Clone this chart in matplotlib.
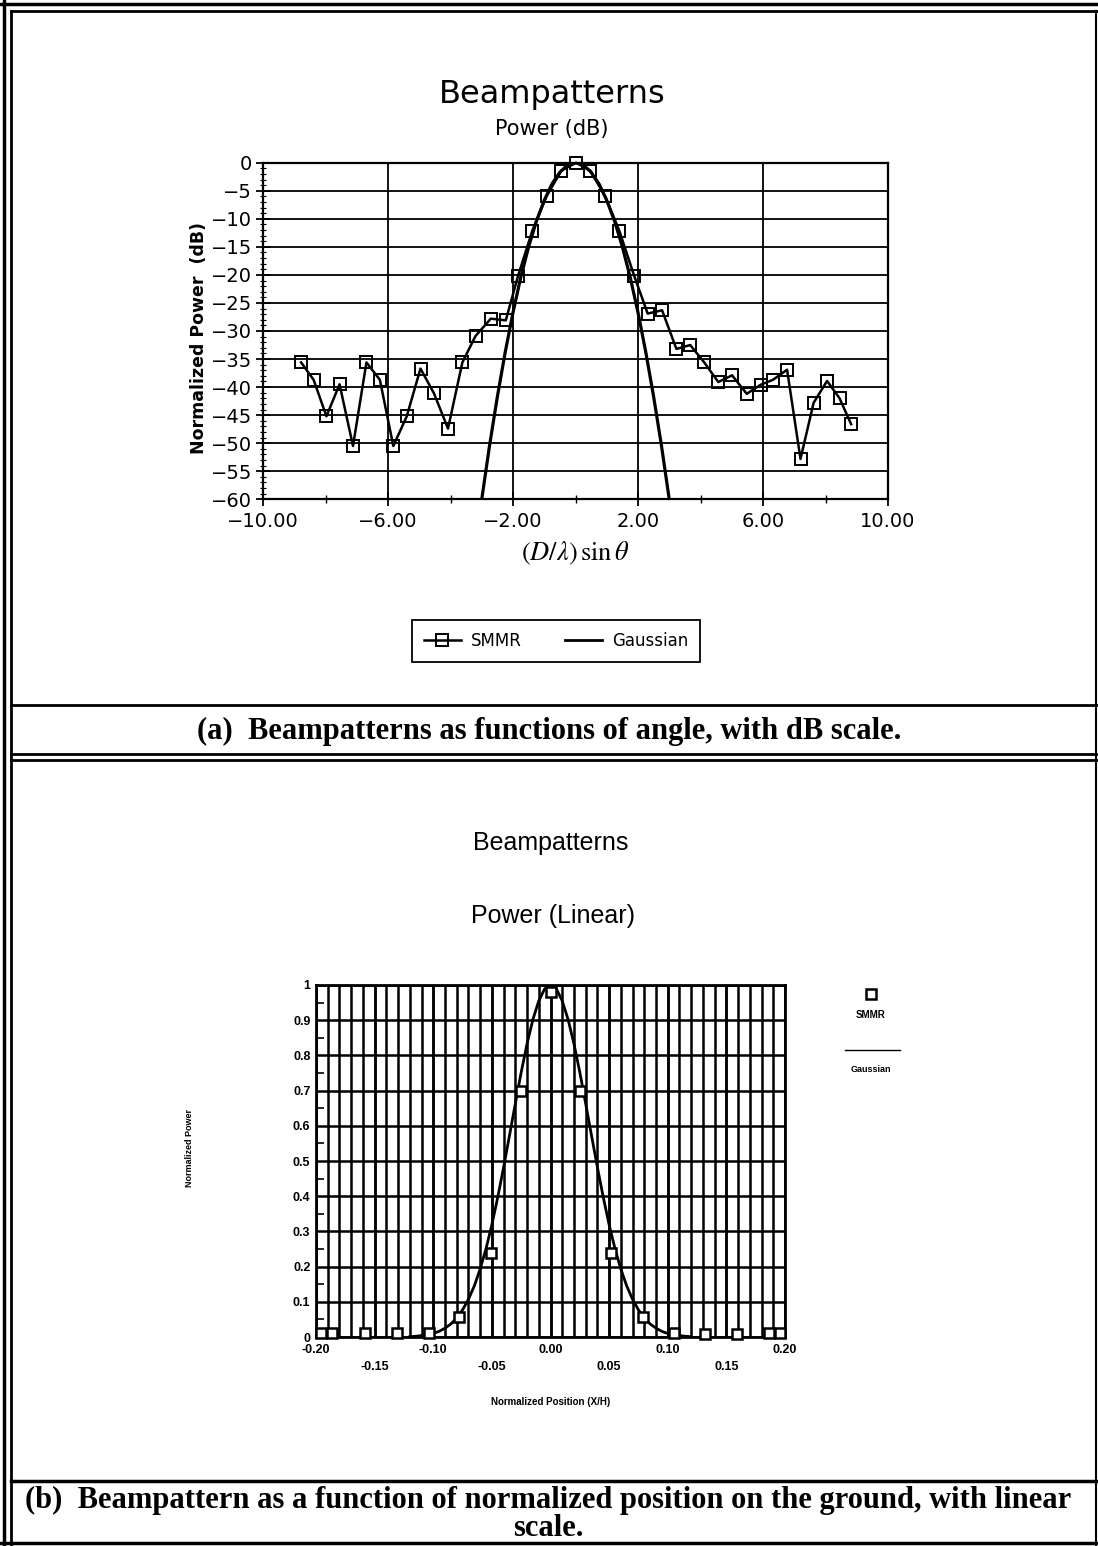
import numpy as np
import matplotlib
matplotlib.use("Agg")
import matplotlib.pyplot as plt
from matplotlib.lines import Line2D

plt.rcParams['font.family'] = ['DejaVu Sans']
plt.rcParams['mathtext.fontset'] = 'stix'

# (a) beampattern vs angle, dB
smmr_u = [-8.78, -8.38, -7.97, -7.55, -7.12, -6.69, -6.26, -5.83, -5.40, -4.96,
          -4.53, -4.08, -3.62, -3.20, -2.71, -2.23, -1.84, -1.38, -0.92, -0.45,
          0.02, 0.47, 0.94, 1.40, 1.88, 2.31, 2.77, 3.23, 3.67, 4.12,
          4.57, 5.01, 5.48, 5.92, 6.32, 6.77, 7.20, 7.62, 8.05, 8.45, 8.82]
smmr_db = [-35.6, -38.7, -45.2, -39.5, -50.5, -35.6, -38.7, -50.5, -45.2, -36.7,
           -41.1, -47.4, -35.6, -30.9, -27.8, -28.1, -20.2, -12.1, -5.9, -1.4,
           0.0, -1.4, -5.9, -12.1, -20.2, -26.9, -26.3, -33.2, -32.5, -35.6,
           -39.1, -37.9, -41.2, -39.6, -38.7, -36.9, -52.8, -42.8, -38.9, -42.0, -46.6]
gauss_u = [-3.1, -3.0, -2.75, -2.5, -2.25, -2.0, -1.75, -1.5, -1.25, -1.0, -0.75, -0.5, -0.25,
           0.0, 0.25, 0.5, 0.75, 1.0, 1.25, 1.5, 1.75, 2.0, 2.25, 2.5, 2.75, 3.0, 3.1]
gauss_db = [-64.1, -60.0, -50.4, -41.7, -33.8, -26.7, -20.4, -15.0, -10.4, -6.7, -3.75, -1.7, -0.4,
            0.0, -0.4, -1.7, -3.75, -6.7, -10.4, -15.0, -20.4, -26.7, -33.8, -41.7, -50.4, -60.0, -64.1]
a_xticks = [-10, -6, -2, 2, 6, 10]
a_xlabels = ['\u221210.00', '\u22126.00', '\u22122.00', '2.00', '6.00', '10.00']
a_yticks = list(range(-60, 1, 5))

# (b) beampattern vs ground position, linear
smmr_x = [-0.196, -0.186, -0.158, -0.131, -0.104, -0.078, -0.051, -0.025, 0.0,
          0.025, 0.052, 0.079, 0.105, 0.132, 0.159, 0.186, 0.196]
smmr_p = [0.012, 0.012, 0.010, 0.010, 0.012, 0.057, 0.239, 0.699, 0.98,
          0.699, 0.239, 0.057, 0.012, 0.009, 0.009, 0.010, 0.010]
gauss_x = [-0.12, -0.115, -0.11, -0.105, -0.10, -0.095, -0.09, -0.085, -0.08, -0.075, -0.07,
           -0.065, -0.06, -0.055, -0.05, -0.045, -0.04, -0.035, -0.03, -0.025, -0.02, -0.015,
           -0.01, -0.005, 0.0, 0.005, 0.01, 0.015, 0.02, 0.025, 0.03, 0.035, 0.04, 0.045,
           0.05, 0.055, 0.06, 0.065, 0.07, 0.075, 0.08, 0.085, 0.09, 0.095, 0.10, 0.105,
           0.11, 0.115, 0.12]
gauss_p = [0.001, 0.002, 0.004, 0.0065, 0.010, 0.016, 0.025, 0.037, 0.054, 0.077, 0.107,
           0.145, 0.193, 0.251, 0.319, 0.397, 0.482, 0.572, 0.663, 0.752, 0.833, 0.902,
           0.955, 0.989, 1.0, 0.989, 0.955, 0.902, 0.833, 0.752, 0.663, 0.572, 0.482, 0.397,
           0.319, 0.251, 0.193, 0.145, 0.107, 0.077, 0.054, 0.037, 0.025, 0.016, 0.010, 0.0065,
           0.004, 0.002, 0.001]
b_xticks = [-0.20, -0.15, -0.10, -0.05, 0.00, 0.05, 0.10, 0.15, 0.20]
b_xlabels = ['-0.20', '-0.15', '-0.10', '-0.05', '0.00', '0.05', '0.10', '0.15', '0.20']
b_yticks = [0, 0.1, 0.2, 0.3, 0.4, 0.5, 0.6, 0.7, 0.8, 0.9, 1.0]
b_ylabels = ['0', '0.1', '0.2', '0.3', '0.4', '0.5', '0.6', '0.7', '0.8', '0.9', '1']

W, H = 1098, 1546
fig = plt.figure(figsize=(W / 100, H / 100), dpi=100)


def fx(px):
    return px / W


def fy(py):
    return 1 - py / H


def hline(y, x0, x1, lw=2.0):
    fig.add_artist(Line2D([fx(x0), fx(x1)], [fy(y), fy(y)], color='black', lw=lw,
                          transform=fig.transFigure))


def vline(x, y0, y1, lw=2.0):
    fig.add_artist(Line2D([fx(x), fx(x)], [fy(y0), fy(y1)], color='black', lw=lw,
                          transform=fig.transFigure))


# ---- panel (a) ----
ax = fig.add_axes([fx(263), fy(499.3), (888 - 263) / W, (499.3 - 162.7) / H])
ax.plot(gauss_u, gauss_db, color='black', lw=2.3)
ax.plot(smmr_u, smmr_db, color='black', lw=1.8, marker='s', ms=8.5,
        mfc='none', mec='black', mew=1.4, clip_on=False, zorder=3)
ax.set_xlim(-10, 10)
ax.set_ylim(-60, 0)
ax.set_xticks(a_xticks, a_xlabels, fontsize=14)
ax.set_xticks([-8, -4, 0, 4, 8], minor=True)
ax.set_yticks(a_yticks, ['\u2212%d' % -v if v else '0' for v in a_yticks], fontsize=14)
ax.set_yticks(range(-60, 1), minor=True)
ax.tick_params(axis='x', which='major', direction='inout', length=10, width=1.3, pad=4)
ax.tick_params(axis='x', which='minor', direction='inout', length=6, width=1.0)
ax.tick_params(axis='y', which='major', direction='inout', length=10, width=1.3, pad=3)
ax.tick_params(axis='y', which='minor', direction='inout', length=5, width=0.8)
ax.grid(True, which='major', color='black', lw=1.3)
for s in ax.spines.values():
    s.set_linewidth(1.6)

fig.text(fx(552), fy(95), 'Beampatterns', ha='center', va='center', fontsize=23)
fig.text(fx(552), fy(129), 'Power (dB)', ha='center', va='center', fontsize=15)
fig.text(fx(199), fy(338), 'Normalized Power  (dB)', ha='center', va='center',
         rotation=90, fontsize=12.5, fontweight='semibold')
fig.text(fx(575), fy(553), r'$(D/\lambda)\,\mathrm{sin}\,\theta$', ha='center', va='center',
         fontsize=19)

h_smmr = Line2D([], [], color='black', lw=1.8, marker='s', ms=8.5, mfc='none', mew=1.4)
h_gauss = Line2D([], [], color='black', lw=2.0)
leg = fig.legend([h_smmr, h_gauss], ['SMMR', 'Gaussian'], loc='center',
                 bbox_to_anchor=(fx(556), fy(641)), ncol=2, fontsize=12,
                 fancybox=False, framealpha=1, edgecolor='black', handlelength=2.2,
                 columnspacing=2.6, borderpad=0.7, handletextpad=0.6)
leg.get_frame().set_linewidth(1.3)

# ---- panel (b) ----
bfont = ['Liberation Sans', 'DejaVu Sans']
bx = fig.add_axes([fx(316), fy(1337), (785 - 316) / W, (1337 - 985) / H])
bx.plot(gauss_x, gauss_p, color='black', lw=2.0, zorder=3)
bx.plot(smmr_x, smmr_p, ls='none', marker='s', ms=7.5, mfc='white', mec='black',
        mew=1.8, zorder=4, clip_on=False)
bx.set_xlim(-0.2, 0.2)
bx.set_ylim(0, 1)
bx.set_xticks(b_xticks, ['\n' + t if i % 2 else t for i, t in enumerate(b_xlabels)])
bx.set_xticks(np.linspace(-0.2, 0.2, 41), minor=True)
bx.xaxis.remove_overlapping_locs = False
bx.set_yticks(b_yticks, b_ylabels)
bx.set_yticks(np.arange(0.05, 1.0, 0.1), minor=True)
for lab in bx.get_xticklabels():
    lab.set_linespacing(1.55)
for lab in bx.get_xticklabels() + bx.get_yticklabels():
    lab.set_family(bfont)
    lab.set_fontweight('bold')
    lab.set_fontsize(9)
bx.tick_params(axis='x', which='both', length=0, pad=5)
bx.tick_params(axis='y', which='major', length=0, pad=4)
bx.tick_params(axis='y', which='minor', direction='in', length=6, width=1.2)
bx.grid(True, axis='y', which='major', color='black', lw=1.8)
bx.grid(True, axis='x', which='both', color='black', lw=1.8)
for s in bx.spines.values():
    s.set_linewidth(2.0)

fig.text(fx(551), fy(843), 'Beampatterns', ha='center', va='center', fontsize=18,
         family=bfont)
fig.text(fx(553), fy(916), 'Power (Linear)', ha='center', va='center', fontsize=18,
         family=bfont)
fig.text(fx(190), fy(1148), 'Normalized Power', ha='center', va='center', rotation=90,
         fontsize=6.5, fontweight='bold', family=bfont)
fig.text(fx(551), fy(1402), 'Normalized Position (X/H)', ha='center', va='center',
         fontsize=7, fontweight='bold', family=bfont)

# side legend of panel (b): marker above its name, line above its name
fig.add_artist(Line2D([fx(871)], [fy(994)], ls='none', marker='s', ms=7.5, mfc='white',
                      mec='black', mew=1.8, transform=fig.transFigure))
fig.text(fx(871), fy(1015), 'SMMR', ha='center', va='center', fontsize=7,
         fontweight='bold', family=bfont)
hline(1050, 845, 900, lw=1.0)
fig.text(fx(871), fy(1069), 'Gaussian', ha='center', va='center', fontsize=6.5,
         fontweight='bold', family=bfont)

# ---- frames and captions ----
cfont = ['Liberation Serif', 'DejaVu Serif']
hline(4, 0, W, lw=2.5)
hline(11, 11, W, lw=2.0)
vline(4, 0, H, lw=2.5)
vline(11, 11, H, lw=2.0)
vline(1096, 11, H, lw=1.5)
hline(705, 11, W, lw=2.0)
hline(754, 11, W, lw=2.0)
hline(760, 11, W, lw=2.0)
hline(1481, 11, W, lw=2.5)
hline(1543, 0, W, lw=2.5)

fig.text(fx(549), fy(731), '(a)  Beampatterns as functions of angle, with dB scale.',
         ha='center', va='center', fontsize=22, fontweight='bold', family=cfont)
fig.text(fx(548), fy(1500),
         '(b)  Beampattern as a function of normalized position on the ground, with linear',
         ha='center', va='center', fontsize=22, fontweight='bold', family=cfont)
fig.text(fx(548), fy(1529), 'scale.', ha='center', va='center', fontsize=22,
         fontweight='bold', family=cfont)

fig.savefig('out.png', dpi=100)
